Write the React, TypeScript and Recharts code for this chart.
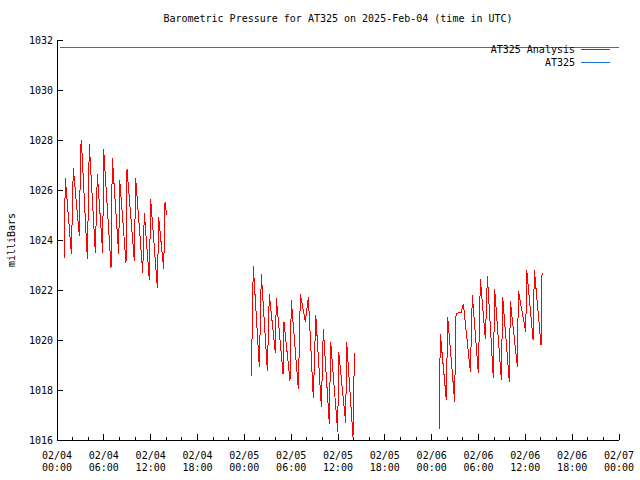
import React from 'react';
import { LineChart, Line, XAxis, YAxis } from 'recharts';

const TITLE = 'Barometric Pressure for AT325 on 2025-Feb-04 (time in UTC)';
const Y_AXIS_LABEL = 'milliBars';
const SERIES_ANALYSIS = 'AT325 Analysis';
const SERIES_STATION = 'AT325';

const Y_TICKS = [1016, 1018, 1020, 1022, 1024, 1026, 1028, 1030, 1032];
const X_TICKS_HOURS = [0, 2, 4, 6, 8, 10, 12, 14, 16, 18, 20, 22, 24, 26, 28, 30, 32, 34, 36, 38, 40, 42, 44, 46, 48, 50, 52, 54, 56, 58, 60, 62, 64, 66, 68, 70, 72];
const X_MAJOR_HOURS = [0, 6, 12, 18, 24, 30, 36, 42, 48, 54, 60, 66, 72];
const X_LABEL_DATES = ['02/04', '02/04', '02/04', '02/04', '02/05', '02/05', '02/05', '02/05', '02/06', '02/06', '02/06', '02/06', '02/07'];
const X_LABEL_TIMES = ['00:00', '06:00', '12:00', '18:00', '00:00', '06:00', '12:00', '18:00', '00:00', '06:00', '12:00', '18:00', '00:00'];

// AT325 Analysis (red), hours since 02/04 00:00 UTC
const SEG1_HOURS = [0.9, 1.07, 1.84, 2.09, 2.86, 3.03, 3.12, 3.89, 4.14, 4.91, 5.17, 5.85, 5.98, 6.92, 7.09, 7.9, 8.03, 8.84, 8.97, 9.91, 10.08, 10.98, 11.19, 11.83, 12.0, 12.86, 13.03, 13.67, 13.84, 14.05];
const SEG1_VALUES = [1023.27, 1026.47, 1023.45, 1026.87, 1024.17, 1027.63, 1028.0, 1023.23, 1027.83, 1023.49, 1026.63, 1023.5, 1027.63, 1022.9, 1027.27, 1023.45, 1026.41, 1023.1, 1026.83, 1023.16, 1026.47, 1022.7, 1025.07, 1022.39, 1025.63, 1022.09, 1024.9, 1022.83, 1025.52, 1025.0];

const SEG2_HOURS = [24.9, 25.15, 25.92, 26.18, 26.95, 27.2, 27.97, 28.1, 28.96, 29.08, 29.85, 30.02, 30.92, 31.18, 31.82, 32.2, 32.84, 33.15, 33.87, 34.12, 34.89, 35.06, 35.96, 36.09, 36.98, 37.11, 37.92, 38.1];
const SEG2_VALUES = [1018.56, 1022.96, 1018.93, 1022.64, 1018.77, 1021.84, 1019.49, 1021.67, 1018.64, 1020.73, 1018.37, 1021.6, 1018.03, 1021.84, 1020.73, 1021.71, 1017.67, 1021.0, 1017.33, 1020.43, 1016.64, 1019.93, 1016.33, 1019.53, 1016.69, 1019.93, 1016.13, 1019.47];

const SEG3_HOURS = [48.99, 49.03, 49.11, 49.88, 50.05, 50.95, 51.08, 51.21, 51.8, 52.06, 52.96, 53.21, 53.98, 54.24, 54.88, 55.14, 55.9, 56.07, 56.93, 57.1, 57.95, 58.08, 58.98, 59.11, 60.05, 60.18, 60.99, 61.16, 62.01, 62.14];
const SEG3_VALUES = [1016.44, 1018.33, 1020.24, 1017.6, 1020.93, 1017.53, 1020.93, 1021.07, 1021.11, 1021.44, 1018.73, 1021.8, 1018.67, 1022.43, 1020.03, 1022.56, 1018.47, 1022.03, 1018.4, 1021.71, 1018.33, 1021.56, 1018.93, 1021.96, 1020.33, 1022.8, 1020.0, 1022.8, 1019.8, 1022.67];

// AT325 (blue)
const STATION_HOURS = [0.4, 72];
const STATION_VALUES = [1031.72, 1031.72];

const RED = '#ff0000';
const BLUE = '#1a76d2';
const FONT = '"DejaVu Sans Mono", "Liberation Mono", monospace';

const zip = (h: number[], v: number[]) => h.map((t, i) => ({ t, v: v[i] }));
const SEG1 = zip(SEG1_HOURS, SEG1_VALUES);
const SEG2 = zip(SEG2_HOURS, SEG2_VALUES);
const SEG3 = zip(SEG3_HOURS, SEG3_VALUES);
const STATION = zip(STATION_HOURS, STATION_VALUES);

const BottomTick = (props: any) => {
  const { x, y, payload } = props;
  const idx = X_MAJOR_HOURS.indexOf(payload.value);
  const major = idx >= 0;
  const len = major ? 6 : 3;
  return (
    <g>
      <line x1={x} x2={x} y1={y} y2={y - len} stroke="#000" shapeRendering="crispEdges" />
      {major && (
        <text x={x} y={y + 19} textAnchor="middle" fontSize={10} fontFamily={FONT} fill="#000">
          {X_LABEL_DATES[idx]}
        </text>
      )}
      {major && (
        <text x={x} y={y + 30.5} textAnchor="middle" fontSize={10} fontFamily={FONT} fill="#000">
          {X_LABEL_TIMES[idx]}
        </text>
      )}
    </g>
  );
};

const TopTick = (props: any) => {
  const { x, y, payload } = props;
  const major = X_MAJOR_HOURS.indexOf(payload.value) >= 0;
  const len = major ? 6 : 3;
  return <line x1={x} x2={x} y1={y} y2={y + len} stroke="#000" shapeRendering="crispEdges" />;
};

const LeftTick = (props: any) => {
  const { x, y, payload } = props;
  const ax = x + 4;
  return (
    <g>
      <line x1={ax} x2={ax + 6} y1={y} y2={y} stroke="#000" shapeRendering="crispEdges" />
      <text x={x} y={y + 3.6} textAnchor="end" fontSize={10} fontFamily={FONT} fill="#000">
        {payload.value}
      </text>
    </g>
  );
};

const RightTick = (props: any) => {
  const { x, y } = props;
  return <line x1={x} x2={x - 6} y1={y} y2={y} stroke="#000" shapeRendering="crispEdges" />;
};

const YLabel = (props: any) => {
  const vb = props.viewBox || { x: 0, y: 40, width: 57, height: 400 };
  const cx = vb.x + 11;
  const cy = vb.y + vb.height / 2;
  return (
    <text
      x={cx}
      y={cy}
      transform={`rotate(-90 ${cx} ${cy})`}
      textAnchor="middle"
      dominantBaseline="central"
      fontSize={10}
      fontFamily={FONT}
      fill="#000"
    >
      {Y_AXIS_LABEL}
    </text>
  );
};

const legendRows = [
  { name: SERIES_ANALYSIS, color: RED, cy: 50 },
  { name: SERIES_STATION, color: BLUE, cy: 63 },
];

export default function App() {
  const axisLine = { stroke: '#000', shapeRendering: 'crispEdges' } as any;
  return (
    <div style={{ position: 'absolute', left: 0, top: 0, width: 640, height: 480, background: '#fff' }}>
      <LineChart width={640} height={480} margin={{ top: 40, right: 21, bottom: 0, left: 0 }}>
        <XAxis
          xAxisId="b"
          type="number"
          dataKey="t"
          domain={[0, 72]}
          allowDataOverflow
          ticks={X_TICKS_HOURS}
          interval={0}
          height={40}
          tickSize={0}
          tickMargin={0}
          tickLine={false}
          axisLine={axisLine}
          tick={<BottomTick />}
        />
        <XAxis
          xAxisId="t"
          orientation="top"
          type="number"
          dataKey="t"
          domain={[0, 72]}
          allowDataOverflow
          ticks={X_TICKS_HOURS}
          interval={0}
          height={0}
          tickSize={0}
          tickMargin={0}
          tickLine={false}
          axisLine={axisLine}
          tick={<TopTick />}
        />
        <YAxis
          yAxisId="l"
          type="number"
          domain={[1016, 1032]}
          allowDataOverflow
          ticks={Y_TICKS}
          interval={0}
          width={57}
          tickSize={0}
          tickMargin={4}
          tickLine={false}
          axisLine={axisLine}
          tick={<LeftTick />}
          label={<YLabel />}
        />
        <YAxis
          yAxisId="r"
          orientation="right"
          type="number"
          domain={[1016, 1032]}
          allowDataOverflow
          ticks={Y_TICKS}
          interval={0}
          width={0}
          tickSize={0}
          tickMargin={0}
          tickLine={false}
          axisLine={axisLine}
          tick={<RightTick />}
        />
        <Line xAxisId="b" yAxisId="l" data={STATION} dataKey="v" name={SERIES_STATION} stroke={BLUE} strokeWidth={1} shapeRendering="crispEdges" dot={false} isAnimationActive={false} />
        <Line xAxisId="b" yAxisId="l" data={SEG1} dataKey="v" name={SERIES_ANALYSIS} stroke={RED} strokeWidth={1} shapeRendering="crispEdges" dot={false} isAnimationActive={false} />
        <Line xAxisId="b" yAxisId="l" data={SEG2} dataKey="v" name={SERIES_ANALYSIS} stroke={RED} strokeWidth={1} shapeRendering="crispEdges" dot={false} isAnimationActive={false} />
        <Line xAxisId="b" yAxisId="l" data={SEG3} dataKey="v" name={SERIES_ANALYSIS} stroke={RED} strokeWidth={1} shapeRendering="crispEdges" dot={false} isAnimationActive={false} />
      </LineChart>
      <div
        style={{
          position: 'absolute',
          left: 57,
          width: 562,
          top: 14,
          textAlign: 'center',
          fontFamily: FONT,
          fontSize: 10,
          lineHeight: '10px',
          whiteSpace: 'pre',
          color: '#000',
        }}
      >
        {TITLE}
      </div>
      {legendRows.map((r) => (
        <React.Fragment key={r.name}>
          <div
            style={{
              position: 'absolute',
              left: 0,
              width: 575,
              top: r.cy - 5,
              textAlign: 'right',
              fontFamily: FONT,
              fontSize: 10,
              lineHeight: '10px',
              whiteSpace: 'pre',
              color: '#000',
            }}
          >
            {r.name}
          </div>
          <div style={{ position: 'absolute', left: 581, width: 29, top: r.cy - 1, height: 0, borderTop: `1px solid ${r.color}` }} />
        </React.Fragment>
      ))}
    </div>
  );
}
